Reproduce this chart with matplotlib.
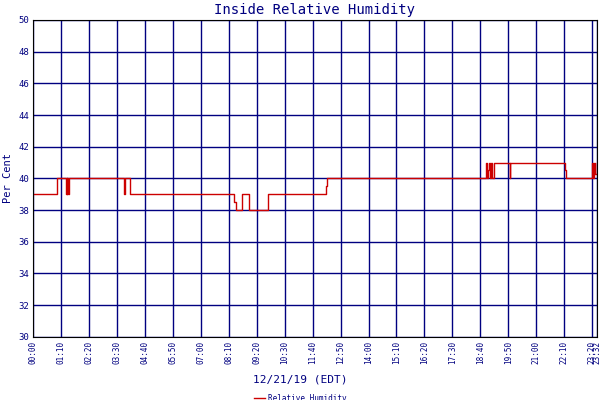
import matplotlib
matplotlib.use("Agg")
import matplotlib.pyplot as plt

# minutes since midnight, humidity (%), step-post
times = [0, 59, 83, 84, 85, 86, 88, 89, 228, 230, 243, 502, 504, 507, 523, 540, 589, 733, 735,
         1135, 1137, 1139, 1141, 1143, 1147, 1149, 1155, 1157, 1193, 1195, 1333, 1335, 1400, 1403, 1405, 1407, 1412]
hum =   [39, 40, 39, 40, 39, 40, 39, 40, 39, 40, 39, 38.5, 38.5, 38, 39, 38, 39, 39.5, 40,
         41, 40, 40.5, 41, 40, 41, 40, 41, 41, 40, 41, 40.5, 40, 41, 40, 41, 40.3, 41]
tick_min = list(range(0, 1401, 70)) + [1412]
tick_lab = ["%02d:%02d" % (m // 60, m % 60) for m in tick_min]
yticks = list(range(30, 51, 2))

navy = "#000080"
plt.rcParams['font.family'] = ['DejaVu Sans Mono']
fig = plt.figure(figsize=(6, 4), dpi=100)
ax = fig.add_axes([0.055, 0.158, 0.94, 0.792])
ax.plot(times, hum, drawstyle="steps-post", color="#cc0000", lw=1.0, label="Relative Humidity")
ax.set_xlim(0, 1412)
ax.set_ylim(30, 50)
ax.set_xticks(tick_min)
ax.set_xticklabels(tick_lab, rotation=90, fontsize=5.5, color=navy)
ax.set_yticks(yticks)
ax.set_yticklabels([str(v) for v in yticks], fontsize=6.5, color=navy)
ax.tick_params(length=0, pad=3)
ax.grid(True, color=navy, lw=1)
for s in ax.spines.values():
    s.set_color("black")
ax.set_title("Inside Relative Humidity", color=navy, fontsize=10, pad=4)
ax.set_ylabel("Per Cent", color=navy, fontsize=7.5, labelpad=4)
fig.text(0.5, 0.045, "12/21/19 (EDT)", color=navy, fontsize=8, ha="center")
fig.legend(loc="lower center", bbox_to_anchor=(0.5, -0.025), frameon=False, fontsize=5.5,
           labelcolor=navy, handlelength=1.5, handletextpad=0.3)
fig.savefig("out.png", dpi=100)
